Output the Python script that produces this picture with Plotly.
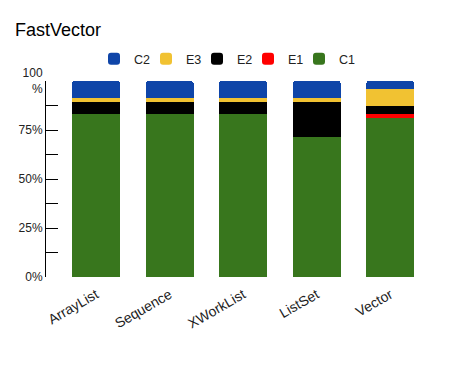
import plotly.graph_objects as go

categories = ["ArrayList", "Sequence", "XWorkList", "ListSet", "Vector"]
c1 = [83.2, 83.2, 83.2, 71.3, 81.1]
e1 = [0, 0, 0, 0, 2.1]
e2 = [6.1, 6.1, 6.1, 18.0, 4.0]
e3 = [2.0, 2.0, 2.0, 2.0, 8.7]
c2 = [8.7, 8.7, 8.7, 8.7, 4.1]

series = [("C1", c1, "#38761d"), ("E1", e1, "#ff0000"), ("E2", e2, "#000000"),
          ("E3", e3, "#f1c232"), ("C2", c2, "#0f45a8")]

# legend swatch left edges (figure px), legend order C2, E3, E2, E1, C1
legend_x = {"C2": 99, "E3": 151, "E2": 202, "E1": 253, "C1": 304}

fig = go.Figure()
legends = {}
for i, (name, vals, col) in enumerate(series):
    lg = "legend" if i == 0 else "legend%d" % (i + 1)
    fig.add_trace(go.Bar(x=categories, y=vals, name=name, marker_color=col,
                         marker_line_width=0, legend=lg, hoverinfo="x+y+name"))
    legends[lg] = dict(orientation="h", xref="container", yref="container",
                       x=(legend_x[name] - 13) / 446, xanchor="left",
                       y=1 - 51 / 363, yanchor="middle",
                       font=dict(size=12.5, color="#222"), bgcolor="rgba(0,0,0,0)")

# page body has an 8px margin, so the figure is a bit smaller than the window
fig.update_layout(
    width=446, height=363,
    barmode="stack",
    bargap=0.347,
    barcornerradius=3,
    plot_bgcolor="white",
    paper_bgcolor="white",
    font=dict(family="Liberation Sans, Arial", size=12, color="#222"),
    title=dict(text="FastVector", x=7/446, xanchor="left", y=1-22/363, yanchor="middle",
               pad=dict(l=0, t=0, b=0, r=0),
               font=dict(size=18, color="black")),
    margin=dict(l=38, r=27, t=73, b=94, autoexpand=False),
    showlegend=True,
    **legends,
)

fig.update_xaxes(
    range=[-0.68, 4.5],
    tickangle=-30,
    showgrid=False,
    showline=False,
    ticks="",
    ticklabelstandoff=6,
    tickfont=dict(size=14, color="#222"),
    automargin=False,
)

fig.update_yaxes(
    range=[0, 100],
    tickvals=[0, 25, 50, 75, 100],
    ticktext=["0%", "25%", "50%", "75%", "100<br>%"],
    showgrid=False,
    zeroline=False,
    showline=True,
    linecolor="black",
    linewidth=1,
    ticks="inside",
    ticklen=12,
    tickcolor="black",
    minor=dict(tickvals=[12.5, 37.5, 62.5, 87.5], ticks="inside", ticklen=12, tickcolor="black"),
    tickfont=dict(size=12, color="#222"),
    automargin=False,
)

fig.write_html("out.html")
